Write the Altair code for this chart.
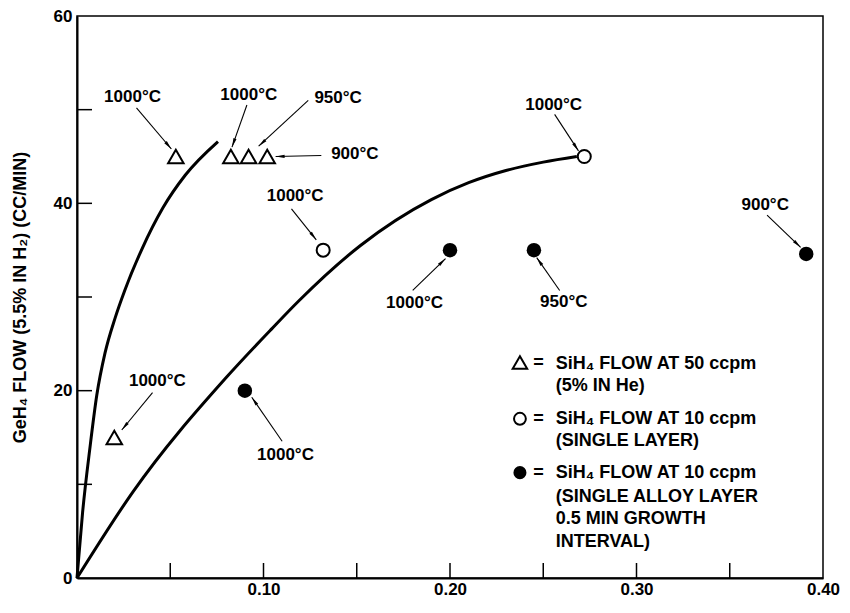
import math
import altair as alt
import pandas as pd

# ---------------- data ----------------
XMAX, YMAX = 0.40, 60

tri_x = [0.053, 0.0825, 0.092, 0.102, 0.020]
tri_y = [45, 45, 45, 45, 15]
open_x = [0.132, 0.272]
open_y = [35, 45]
fill_x = [0.090, 0.200, 0.245, 0.391]
fill_y = [20, 35, 35, 34.6]

curve1_x = [0, 0.003, 0.007, 0.0106, 0.015, 0.0205, 0.0256, 0.035, 0.046, 0.058, 0.0756]
curve1_y = [0, 7, 14, 19.5, 24, 27.8, 30.7, 35.2, 39.5, 43.0, 46.6]
curve2_x = [0, 0.030, 0.080, 0.1044, 0.119, 0.152, 0.190, 0.210, 0.230, 0.250, 0.268]
curve2_y = [0, 9.2, 21.4, 26.6, 29.6, 35.5, 40.4, 42.2, 43.5, 44.4, 45.0]

ann_text = ["1000°C", "1000°C", "950°C", "900°C", "1000°C", "1000°C",
            "1000°C", "950°C", "900°C", "1000°C", "1000°C"]
ann_tx = [0.0298, 0.0921, 0.140, 0.149, 0.2556, 0.117, 0.181, 0.261, 0.369, 0.0431, 0.1118]
ann_ty = [51.4, 51.6, 51.2, 45.3, 50.5, 40.8, 29.4, 29.5, 39.8, 21.0, 13.1]
arr_x1 = [0.0319, 0.0911, 0.124, 0.131, 0.2561, 0.115, 0.180, 0.2588, 0.370, 0.0405, 0.110]
arr_y1 = [50.2, 50.5, 51.0, 45.1, 49.5, 39.4, 30.7, 30.7, 38.75, 19.8, 14.6]
arr_x2 = [0.0506, 0.0831, 0.0974, 0.1065, 0.2689, 0.1283, 0.1976, 0.2465, 0.388, 0.024, 0.0937]
arr_y2 = [45.8, 46.0, 46.1, 45.0, 45.6, 36.1, 34.1, 34.2, 35.3, 15.8, 19.3]

x_tick_labels = [0.10, 0.20, 0.30, 0.40]
y_tick_labels = [0, 20, 40, 60]
x_minor = [0.05, 0.10, 0.15, 0.20, 0.25, 0.30, 0.35]
y_minor = [10, 20, 30, 40, 50]

legend_lines = ["SiH₄ FLOW AT 50 ccpm", "(5% IN He)",
                "SiH₄ FLOW AT 10 ccpm", "(SINGLE LAYER)",
                "SiH₄ FLOW AT 10 ccpm", "(SINGLE ALLOY LAYER",
                "0.5 MIN GROWTH", "INTERVAL)"]
legend_line_y = [22.9, 20.5, 17.0, 14.6, 11.25, 8.65, 6.25, 3.85]
legend_text_x = 0.2567
legend_eq_x = 0.2475
legend_sym_x = 0.2375
legend_sym_y = [23.0, 17.0, 11.25]

# ---------------- layout / style ----------------
W, H = 746, 562
FONT = "Liberation Sans"

xscale = alt.Scale(domain=[0, XMAX], nice=False, zero=False)
yscale = alt.Scale(domain=[0, YMAX], nice=False, zero=False)

x_axis = alt.Axis(values=x_tick_labels, format=".2f", ticks=False, grid=False,
                  domainColor="black", domainWidth=2, labelFont=FONT, labelFontSize=17,
                  labelFontWeight="bold", labelColor="black", labelPadding=3,
                  labelFlush=False, labelOverlap=False, title=None)
y_axis = alt.Axis(values=y_tick_labels, format="d", ticks=False, grid=False,
                  domainColor="black", domainWidth=2, labelFont=FONT, labelFontSize=17,
                  labelFontWeight="bold", labelColor="black", labelPadding=5,
                  labelOverlap=False,
                  title="GeH₄ FLOW (5.5% IN H₂) (CC/MIN)", titleFont=FONT,
                  titleFontSize=18, titleFontWeight="bold", titleColor="black",
                  titleX=-57, titleY=H / 2, titleAngle=-90, titleAlign="center",
                  titleBaseline="middle")


def X(f="x"):
    return alt.X(f"{f}:Q", scale=xscale, axis=x_axis)


def Y(f="y"):
    return alt.Y(f"{f}:Q", scale=yscale, axis=y_axis)


# ---------------- tables ----------------
curves = pd.DataFrame({
    "x": curve1_x + curve2_x,
    "y": curve1_y + curve2_y,
    "curve": ["a"] * len(curve1_x) + ["b"] * len(curve2_x),
})
tri = pd.DataFrame({"x": tri_x, "y": tri_y})
opn = pd.DataFrame({"x": open_x, "y": open_y})
fil = pd.DataFrame({"x": fill_x, "y": fill_y})

pxx = W / XMAX
pxy = H / YMAX
head_half = 4.5
rows = []
for i in range(len(ann_text)):
    dxp = (arr_x2[i] - arr_x1[i]) * pxx
    dyp = -(arr_y2[i] - arr_y1[i]) * pxy
    L = math.hypot(dxp, dyp)
    ux, uy = dxp / L, dyp / L
    ang = math.degrees(math.atan2(ux, -uy)) % 360
    rows.append({
        "t": ann_text[i], "tx": ann_tx[i], "ty": ann_ty[i],
        "x1": arr_x1[i], "y1": arr_y1[i], "x2": arr_x2[i], "y2": arr_y2[i],
        "hx": arr_x2[i] - ux * head_half / pxx,
        "hy": arr_y2[i] + uy * head_half / pxy,
        "ang": ang,
    })
ann = pd.DataFrame(rows)

xt = pd.DataFrame({"x": x_minor})
yt = pd.DataFrame({"y": y_minor})

leg_txt = pd.DataFrame({"t": legend_lines, "y": legend_line_y, "x": [legend_text_x] * len(legend_lines)})
leg_eq = pd.DataFrame({"y": legend_sym_y, "x": [legend_eq_x] * 3, "t": ["="] * 3})
leg_tri = pd.DataFrame({"x": [legend_sym_x], "y": [legend_sym_y[0]]})
leg_open = pd.DataFrame({"x": [legend_sym_x], "y": [legend_sym_y[1]]})
leg_fill = pd.DataFrame({"x": [legend_sym_x], "y": [legend_sym_y[2]]})

# ---------------- layers ----------------
lines = alt.Chart(curves).mark_line(color="black", strokeWidth=3, interpolate="monotone").encode(
    x=X(), y=Y(), detail="curve:N")

xticks = alt.Chart(xt).mark_rule(color="black", strokeWidth=1.5).encode(
    x=X(), y=alt.value(H), y2=alt.value(H - 15))
yticks = alt.Chart(yt).mark_rule(color="black", strokeWidth=1.5).encode(
    y=Y(), x=alt.value(0), x2=alt.value(15))

tri_l = alt.Chart(tri).mark_point(shape="triangle-up", size=240, filled=False, color="black",
                                  strokeWidth=2, opacity=1).encode(x=X(), y=Y())
open_l = alt.Chart(opn).mark_point(shape="circle", size=170, filled=False, color="black",
                                   strokeWidth=2, opacity=1).encode(x=X(), y=Y())
fill_l = alt.Chart(fil).mark_point(shape="circle", size=210, filled=True, color="black",
                                   opacity=1).encode(x=X(), y=Y())

arrows = alt.Chart(ann).mark_rule(color="black", strokeWidth=1.1).encode(
    x=X("x1"), y=Y("y1"), x2="x2:Q", y2="y2:Q")
heads = alt.Chart(ann).mark_point(shape="M0,-1L0.36,1L-0.36,1Z", size=81, filled=True,
                                  color="black", opacity=1).encode(
    x=X("hx"), y=Y("hy"), angle=alt.Angle("ang:Q", scale=None))
labels = alt.Chart(ann).mark_text(font=FONT, fontSize=17, fontWeight="bold", color="black",
                                  align="center", baseline="middle").encode(
    x=X("tx"), y=Y("ty"), text="t:N")

leg_text_l = alt.Chart(leg_txt).mark_text(font=FONT, fontSize=18, fontWeight="bold", color="black",
                                          align="left", baseline="middle").encode(
    x=X(), y=Y(), text="t:N")
leg_eq_l = alt.Chart(leg_eq).mark_text(font=FONT, fontSize=18, fontWeight="bold", color="black",
                                       align="center", baseline="middle").encode(
    x=X(), y=Y(), text="t:N")
leg_tri_l = alt.Chart(leg_tri).mark_point(shape="triangle-up", size=210, filled=False, color="black",
                                          strokeWidth=2, opacity=1).encode(x=X(), y=Y())
leg_open_l = alt.Chart(leg_open).mark_point(shape="circle", size=140, filled=False, color="black",
                                            strokeWidth=2, opacity=1).encode(x=X(), y=Y())
leg_fill_l = alt.Chart(leg_fill).mark_point(shape="circle", size=170, filled=True, color="black",
                                            opacity=1).encode(x=X(), y=Y())

chart = alt.layer(
    xticks, yticks, lines, tri_l, open_l, fill_l, arrows, heads, labels,
    leg_text_l, leg_eq_l, leg_tri_l, leg_open_l, leg_fill_l,
).properties(
    width=W, height=H,
    autosize=alt.AutoSizeParams(type="none"),
    padding={"left": 69, "top": 8, "right": 19, "bottom": 27},
    background="white",
).configure_view(stroke="black", strokeWidth=1.5)

chart.save("out.html", embed_options={"renderer": "svg", "actions": False})
